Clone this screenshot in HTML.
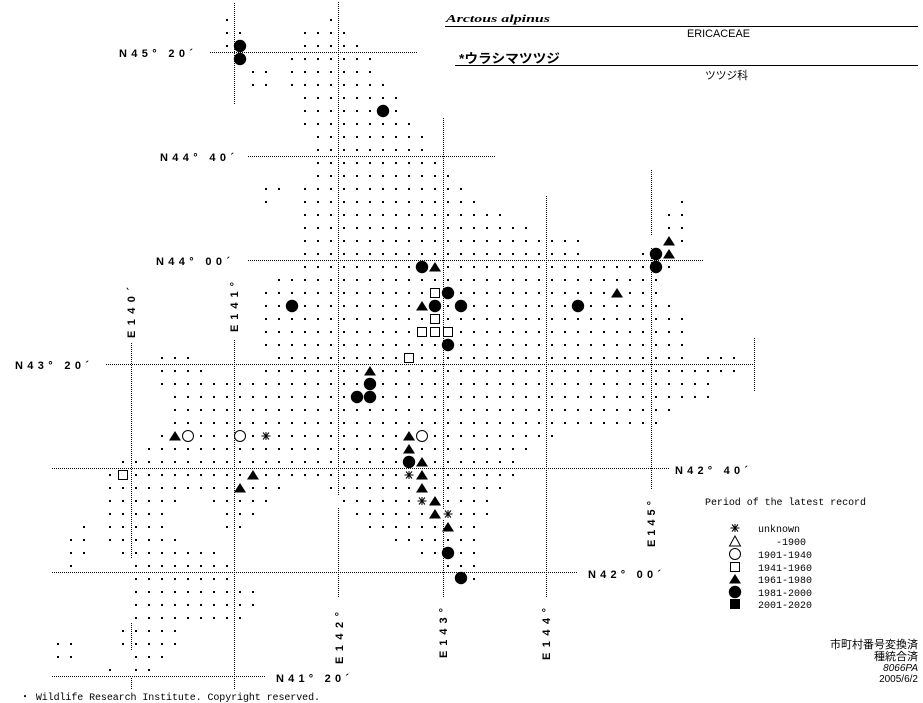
<!DOCTYPE html>
<html><head><meta charset="utf-8"><style>
html,body{margin:0;padding:0;background:#fff;}
svg{display:block;}
.lb{font-family:"Liberation Sans",sans-serif;font-weight:bold;font-size:11px;fill:#000;}
.mono{font-family:"Liberation Mono","Noto Sans CJK JP",monospace;font-size:10px;fill:#000;}
.jp{font-family:"Liberation Sans","Noto Sans CJK JP",sans-serif;fill:#000;}
</style></head><body>
<svg width="923" height="703" viewBox="0 0 923 703" xmlns="http://www.w3.org/2000/svg">
<defs>
<pattern id="d" x="0" y="0" width="13" height="13" patternUnits="userSpaceOnUse"><rect x="5" y="6" width="2" height="2" fill="#000"/></pattern>
<g id="tri"><polygon points="0,-5 6,4.5 -6,4.5" fill="#000"/></g>
<g id="cir"><circle r="6.2" fill="#000"/></g>
<g id="oc"><circle r="5.5" fill="#fff" stroke="#000" stroke-width="1"/></g>
<g id="sq"><rect x="-4.5" y="-4.5" width="9" height="9" fill="#fff" stroke="#000" stroke-width="1"/></g>
<g id="ast"><rect x="-5" y="-5" width="10" height="10" fill="#fff"/><path d="M-4.5,0H4.5M-3,-3.5L3,3.5M-3,3.5L3,-3.5M0,-4V4" stroke="#000" stroke-width="1" fill="none"/></g>
</defs>
<g fill="url(#d)">
<rect x="221" y="14" width="13" height="13"/><rect x="325" y="14" width="13" height="13"/>
<rect x="221" y="27" width="26" height="13"/><rect x="299" y="27" width="52" height="13"/>
<rect x="221" y="40" width="13" height="13"/><rect x="299" y="40" width="65" height="13"/>
<rect x="286" y="53" width="91" height="13"/>
<rect x="247" y="66" width="26" height="13"/><rect x="286" y="66" width="91" height="13"/>
<rect x="247" y="79" width="26" height="13"/><rect x="286" y="79" width="104" height="13"/>
<rect x="299" y="92" width="104" height="13"/>
<rect x="299" y="105" width="104" height="13"/>
<rect x="299" y="118" width="117" height="13"/>
<rect x="312" y="131" width="117" height="13"/>
<rect x="312" y="144" width="117" height="13"/>
<rect x="312" y="157" width="130" height="13"/>
<rect x="312" y="170" width="143" height="13"/>
<rect x="260" y="183" width="26" height="13"/><rect x="299" y="183" width="169" height="13"/>
<rect x="260" y="196" width="13" height="13"/><rect x="299" y="196" width="182" height="13"/><rect x="676" y="196" width="13" height="13"/>
<rect x="299" y="209" width="208" height="13"/><rect x="663" y="209" width="26" height="13"/>
<rect x="299" y="222" width="234" height="13"/><rect x="663" y="222" width="26" height="13"/>
<rect x="299" y="235" width="286" height="13"/><rect x="676" y="235" width="13" height="13"/>
<rect x="299" y="248" width="286" height="13"/><rect x="637" y="248" width="13" height="13"/>
<rect x="299" y="261" width="377" height="13"/>
<rect x="273" y="274" width="390" height="13"/>
<rect x="260" y="287" width="403" height="13"/>
<rect x="260" y="300" width="416" height="13"/>
<rect x="260" y="313" width="429" height="13"/>
<rect x="260" y="326" width="429" height="13"/>
<rect x="260" y="339" width="429" height="13"/>
<rect x="156" y="352" width="39" height="13"/><rect x="273" y="352" width="416" height="13"/><rect x="702" y="352" width="39" height="13"/>
<rect x="156" y="365" width="52" height="13"/><rect x="260" y="365" width="481" height="13"/>
<rect x="156" y="378" width="559" height="13"/>
<rect x="169" y="391" width="546" height="13"/>
<rect x="169" y="404" width="507" height="13"/>
<rect x="169" y="417" width="494" height="13"/>
<rect x="156" y="430" width="403" height="13"/>
<rect x="143" y="443" width="390" height="13"/>
<rect x="117" y="456" width="403" height="13"/>
<rect x="104" y="469" width="416" height="13"/>
<rect x="104" y="482" width="182" height="13"/><rect x="325" y="482" width="182" height="13"/>
<rect x="104" y="495" width="78" height="13"/><rect x="208" y="495" width="65" height="13"/><rect x="338" y="495" width="156" height="13"/>
<rect x="104" y="508" width="65" height="13"/><rect x="221" y="508" width="39" height="13"/><rect x="351" y="508" width="143" height="13"/>
<rect x="78" y="521" width="13" height="13"/><rect x="104" y="521" width="65" height="13"/><rect x="221" y="521" width="26" height="13"/><rect x="364" y="521" width="117" height="13"/>
<rect x="65" y="534" width="26" height="13"/><rect x="104" y="534" width="78" height="13"/><rect x="390" y="534" width="91" height="13"/>
<rect x="65" y="547" width="26" height="13"/><rect x="117" y="547" width="104" height="13"/><rect x="416" y="547" width="65" height="13"/>
<rect x="65" y="560" width="13" height="13"/><rect x="130" y="560" width="104" height="13"/><rect x="442" y="560" width="39" height="13"/>
<rect x="130" y="573" width="104" height="13"/><rect x="455" y="573" width="26" height="13"/>
<rect x="130" y="586" width="130" height="13"/>
<rect x="130" y="599" width="130" height="13"/>
<rect x="130" y="612" width="117" height="13"/>
<rect x="117" y="625" width="65" height="13"/>
<rect x="52" y="638" width="26" height="13"/><rect x="117" y="638" width="65" height="13"/>
<rect x="52" y="651" width="26" height="13"/><rect x="130" y="651" width="39" height="13"/>
<rect x="104" y="664" width="13" height="13"/><rect x="130" y="664" width="26" height="13"/>
</g>
<g stroke="#000" stroke-width="1" stroke-dasharray="1 1" fill="none">
<path d="M210,52.5H417M248,156.5H495M248,260.5H703M106,364.5H754M52,468.5H670M52,572.5H577M52,676.5H265"/>
<path d="M131.5,343V558M131.5,623V650M131.5,678V690M234.5,3V105M234.5,340V690M338.5,2V495M338.5,508V598M443.5,118V598M546.5,196V598M651.5,170V235M651.5,248V490M754.5,338V391"/>
</g>
<g>
<use href="#cir" x="240" y="46"/><use href="#cir" x="240" y="59"/><use href="#cir" x="383" y="111"/>
<use href="#cir" x="422" y="267"/><use href="#cir" x="448" y="293"/><use href="#cir" x="292" y="306"/>
<use href="#cir" x="435" y="306"/><use href="#cir" x="461" y="306"/><use href="#cir" x="578" y="306"/>
<use href="#cir" x="448" y="345"/><use href="#cir" x="656" y="254"/><use href="#cir" x="656" y="267"/>
<use href="#cir" x="370" y="384"/><use href="#cir" x="357" y="397"/><use href="#cir" x="370" y="397"/>
<use href="#cir" x="409" y="462"/><use href="#cir" x="448" y="553"/><use href="#cir" x="461" y="578"/>
<use href="#tri" x="435" y="267"/><use href="#tri" x="422" y="306"/><use href="#tri" x="617" y="293"/>
<use href="#tri" x="669" y="241"/><use href="#tri" x="669" y="254"/><use href="#tri" x="370" y="371"/>
<use href="#tri" x="175" y="436"/><use href="#tri" x="409" y="436"/><use href="#tri" x="409" y="449"/>
<use href="#tri" x="422" y="462"/><use href="#tri" x="422" y="475"/><use href="#tri" x="253" y="475"/>
<use href="#tri" x="240" y="488"/><use href="#tri" x="422" y="488"/><use href="#tri" x="435" y="501"/>
<use href="#tri" x="435" y="514"/><use href="#tri" x="448" y="527"/>
<use href="#oc" x="188" y="436"/><use href="#oc" x="240" y="436"/><use href="#oc" x="422" y="436"/>
<use href="#sq" x="435" y="293"/><use href="#sq" x="435" y="319"/><use href="#sq" x="422" y="332"/>
<use href="#sq" x="435" y="332"/><use href="#sq" x="448" y="332"/><use href="#sq" x="409" y="358"/>
<use href="#sq" x="123" y="475"/>
<use href="#ast" x="266" y="436"/><use href="#ast" x="409" y="475"/><use href="#ast" x="422" y="501"/><use href="#ast" x="448" y="514"/>
</g>
<g class="lb">
<text x="119" y="57" textLength="74" lengthAdjust="spacing">N45° 20´</text>
<text x="160" y="161" textLength="74" lengthAdjust="spacing">N44° 40´</text>
<text x="156" y="265" textLength="74" lengthAdjust="spacing">N44° 00´</text>
<text x="15" y="369" textLength="74" lengthAdjust="spacing">N43° 20´</text>
<text x="675" y="474" textLength="73" lengthAdjust="spacing">N42° 40´</text>
<text x="588" y="578" textLength="73" lengthAdjust="spacing">N42° 00´</text>
<text x="276" y="682" textLength="73" lengthAdjust="spacing">N41° 20´</text>
<text transform="translate(135,338) rotate(-90)" textLength="51" lengthAdjust="spacing">E140´</text>
<text transform="translate(238,332) rotate(-90)" textLength="50" lengthAdjust="spacing">E141°</text>
<text transform="translate(343,664) rotate(-90)" textLength="52" lengthAdjust="spacing">E142°</text>
<text transform="translate(447,658) rotate(-90)" textLength="50" lengthAdjust="spacing">E143°</text>
<text transform="translate(550,660) rotate(-90)" textLength="52" lengthAdjust="spacing">E144°</text>
<text transform="translate(655,547) rotate(-90)" textLength="46" lengthAdjust="spacing">E145°</text>
</g>
<text x="446" y="22" font-family="Liberation Serif,serif" font-style="italic" font-weight="bold" font-size="11" textLength="104" lengthAdjust="spacingAndGlyphs">Arctous alpinus</text>
<line x1="445" y1="26.5" x2="918" y2="26.5" stroke="#000"/>
<text x="687" y="37" class="jp" font-size="11" textLength="63" lengthAdjust="spacingAndGlyphs">ERICACEAE</text>
<text x="459" y="63" class="jp" font-size="13" font-weight="bold" textLength="101" lengthAdjust="spacingAndGlyphs">*ウラシマツツジ</text>
<line x1="455" y1="65.5" x2="918" y2="65.5" stroke="#000"/>
<text x="705" y="79" class="jp" font-size="11" textLength="43" lengthAdjust="spacingAndGlyphs">ツツジ科</text>
<text x="705" y="505" class="mono" textLength="161" lengthAdjust="spacing">Period of the latest record</text>
<g>
<use href="#ast" x="735" y="528"/>
<polygon points="735,536 740.5,546 729.5,546" fill="#fff" stroke="#000"/>
<use href="#oc" x="735" y="554"/>
<use href="#sq" x="735" y="567"/>
<use href="#tri" x="735" y="579"/>
<use href="#cir" x="735" y="592"/>
<rect x="730" y="599" width="10" height="10" fill="#000"/>
</g>
<g class="mono">
<text x="758" y="532">unknown</text>
<text x="776" y="545">-1900</text>
<text x="758" y="558">1901-1940</text>
<text x="758" y="571">1941-1960</text>
<text x="758" y="583">1961-1980</text>
<text x="758" y="596">1981-2000</text>
<text x="758" y="608">2001-2020</text>
</g>
<g class="jp" text-anchor="end" font-size="11">
<text x="918" y="648">市町村番号変換済</text>
<text x="918" y="660">種統合済</text>
<text x="918" y="671" font-style="italic" font-size="10">8066PA</text>
<text x="918" y="682" font-size="10">2005/6/2</text>
</g>
<text x="20" y="700" class="mono" textLength="300" lengthAdjust="spacing">・ Wildlife Research Institute. Copyright reserved.</text>
</svg>
</body></html>
